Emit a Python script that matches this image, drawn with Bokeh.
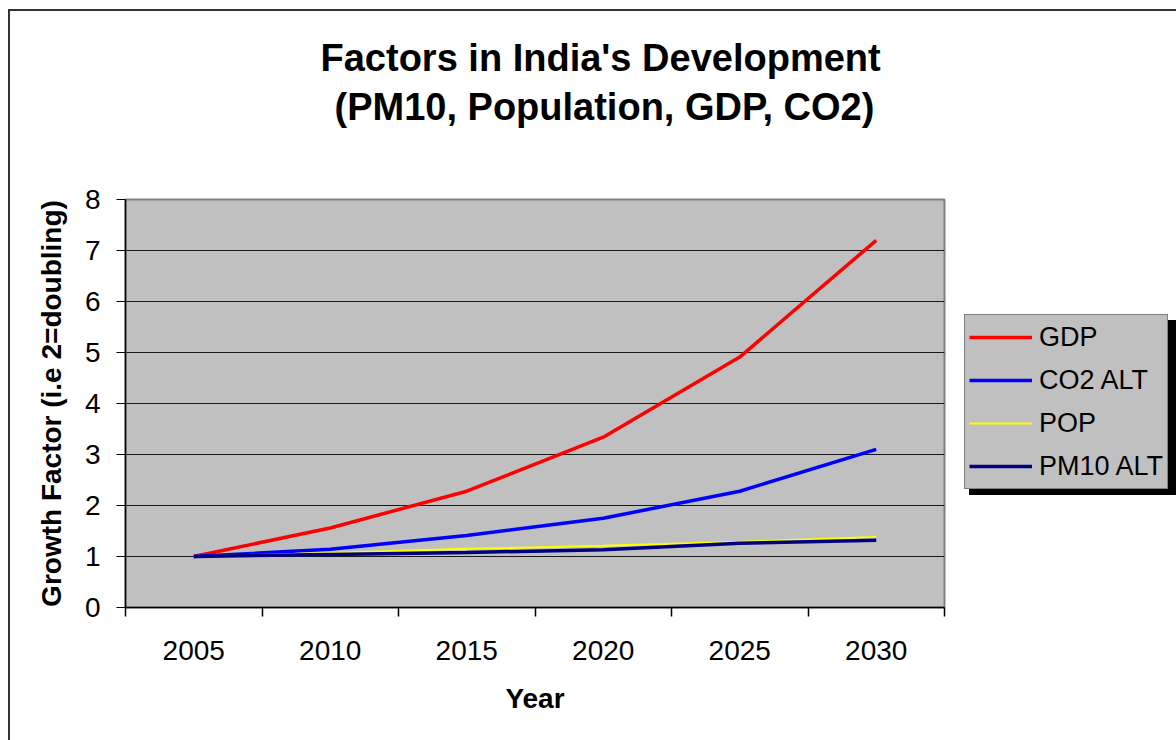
from bokeh.plotting import figure
from bokeh.layouts import row
from bokeh.models import (Range1d, FixedTicker, Legend, LegendItem, Title,
                          ColumnDataSource)
from bokeh.embed import file_html
from bokeh.resources import INLINE

years = ["2005", "2010", "2015", "2020", "2025", "2030"]
gdp = [1.0, 1.56, 2.28, 3.34, 4.91, 7.2]
co2_alt = [1.0, 1.14, 1.41, 1.75, 2.28, 3.1]
pop = [1.0, 1.07, 1.15, 1.21, 1.29, 1.38]
pm10_alt = [1.0, 1.04, 1.08, 1.13, 1.26, 1.32]
y_ticks = [0, 1, 2, 3, 4, 5, 6, 7, 8]
labels = ["GDP", "CO2 ALT", "POP", "PM10 ALT"]
colors = ["#FF0000", "#0000FF", "#FFFF00", "#000080"]
widths = [3.5, 3.5, 2, 3.5]
cols = ["gdp", "co2", "pop", "pm10"]

FONT = "Liberation Sans"

xc = [i + 0.5 for i in range(len(years))]
src = ColumnDataSource(dict(x=xc, gdp=gdp, co2=co2_alt, pop=pop, pm10=pm10_alt))

OX, OY = 10, 11          # canvas origin on the page (css margin + border)
H = 729
WP = 944 - OX + 2        # main chart canvas width
WL = 1166 - WP           # legend area width

p = figure(width=WP, height=H, output_backend="svg", toolbar_location=None,
           x_range=Range1d(0, len(years)), y_range=Range1d(y_ticks[0], y_ticks[-1]),
           min_border_left=125 - OX, min_border_right=2,
           min_border_top=199 - OY, min_border_bottom=H - (607 - OY))

p.background_fill_color = "#C0C0C0"
p.border_fill_color = "white"
p.outline_line_color = "#808080"
p.outline_line_width = 2

p.xgrid.grid_line_color = None
p.ygrid.grid_line_color = "#1a1a1a"
p.ygrid.grid_line_width = 1

# y axis
p.yaxis.ticker = FixedTicker(ticks=y_ticks)
p.yaxis.axis_line_color = "black"
p.yaxis.axis_line_width = 1.5
p.yaxis.major_tick_line_color = "black"
p.yaxis.major_tick_out = 9
p.yaxis.major_tick_in = 0
p.yaxis.minor_tick_line_color = None
p.yaxis.major_label_text_font = FONT
p.yaxis.major_label_text_font_size = "28px"
p.yaxis.major_label_text_color = "black"
p.yaxis.major_label_standoff = 16
p.yaxis.axis_label = "Growth Factor (i.e 2=doubling)"
p.yaxis.axis_label_text_font = FONT
p.yaxis.axis_label_text_font_size = "28px"
p.yaxis.axis_label_text_font_style = "bold"
p.yaxis.axis_label_text_color = "black"
p.yaxis.axis_label_standoff = 15

# x axis: labels at category centers, tick marks at boundaries
p.xaxis.ticker = FixedTicker(ticks=xc, minor_ticks=list(range(len(years) + 1)))
p.xaxis.major_label_overrides = {x: y for x, y in zip(xc, years)}
p.xaxis.axis_line_color = "black"
p.xaxis.axis_line_width = 1.5
p.xaxis.major_tick_line_color = None
p.xaxis.major_tick_out = 0
p.xaxis.major_tick_in = 0
p.xaxis.minor_tick_line_color = "black"
p.xaxis.minor_tick_line_width = 1.5
p.xaxis.minor_tick_out = 9
p.xaxis.minor_tick_in = 0
p.xaxis.major_label_text_font = FONT
p.xaxis.major_label_text_font_size = "28px"
p.xaxis.major_label_text_color = "black"
p.xaxis.major_label_standoff = 24
p.xaxis.axis_label = "Year"
p.xaxis.axis_label_text_font = FONT
p.xaxis.axis_label_text_font_size = "28px"
p.xaxis.axis_label_text_font_style = "bold"
p.xaxis.axis_label_text_color = "black"
p.xaxis.axis_label_standoff = 20

# titles (line 2 added first: closest to plot)
t2 = Title(text="(PM10, Population, GDP, CO2)", align="left", offset=209,
           text_font=FONT, text_font_size="38px", text_font_style="bold",
           text_color="black", standoff=144)
t1 = Title(text="Factors in India's Development", align="left", offset=195,
           text_font=FONT, text_font_size="38px", text_font_style="bold",
           text_color="black", standoff=-134)
p.add_layout(t2, "above")
p.add_layout(t1, "above")

for c, col, w in zip(colors, cols, widths):
    p.line("x", col, source=src, line_color=c, line_width=w)

# legend area: a bare figure whose lines fall outside its ranges
q = figure(width=WL, height=H, output_backend="svg", toolbar_location=None,
           x_range=Range1d(-20, -19), y_range=Range1d(0, 1),
           x_axis_location=None, y_axis_location=None, min_border=0)
q.outline_line_color = None
q.background_fill_color = "white"
q.border_fill_color = "white"
q.grid.visible = False
q_rends = [q.line("x", col, source=src, line_color=c, line_width=w)
           for c, col, w in zip(colors, cols, widths)]

# the legend figure's frame is aligned with the main frame (rows align frames)
lx = 964 - (OX + WP)
ly = 607 - 489

# drop shadow: a single blank item box of the same size, offset down-right
shadow = Legend(items=[LegendItem(label=" ", renderers=[q_rends[3]])],
                location=(lx + 5, ly - 6), padding=4, spacing=0,
                glyph_height=165, glyph_width=63, label_height=165,
                label_width=129, label_standoff=7, label_text_font=FONT,
                label_text_font_size="27px", margin=0,
                background_fill_color="black", background_fill_alpha=1,
                border_line_color="black")
q.add_layout(shadow, "center")

legend = Legend(items=[LegendItem(label=l, renderers=[r]) for l, r in zip(labels, q_rends)],
                location=(lx, ly), padding=4, spacing=7, glyph_height=36,
                glyph_width=63, label_height=36, label_standoff=7,
                label_text_font=FONT, label_text_font_size="27px", margin=0,
                background_fill_color="#C0C0C0", background_fill_alpha=1,
                border_line_color="#404040", border_line_width=1.5,
                label_text_color="black")
q.add_layout(legend, "center")

layout = row(p, q, styles={"border-left": "2px solid #333333",
                           "border-top": "2px solid #333333",
                           "margin-left": "8px", "margin-top": "9px"})

open("out.html", "w").write(file_html(layout, INLINE))
